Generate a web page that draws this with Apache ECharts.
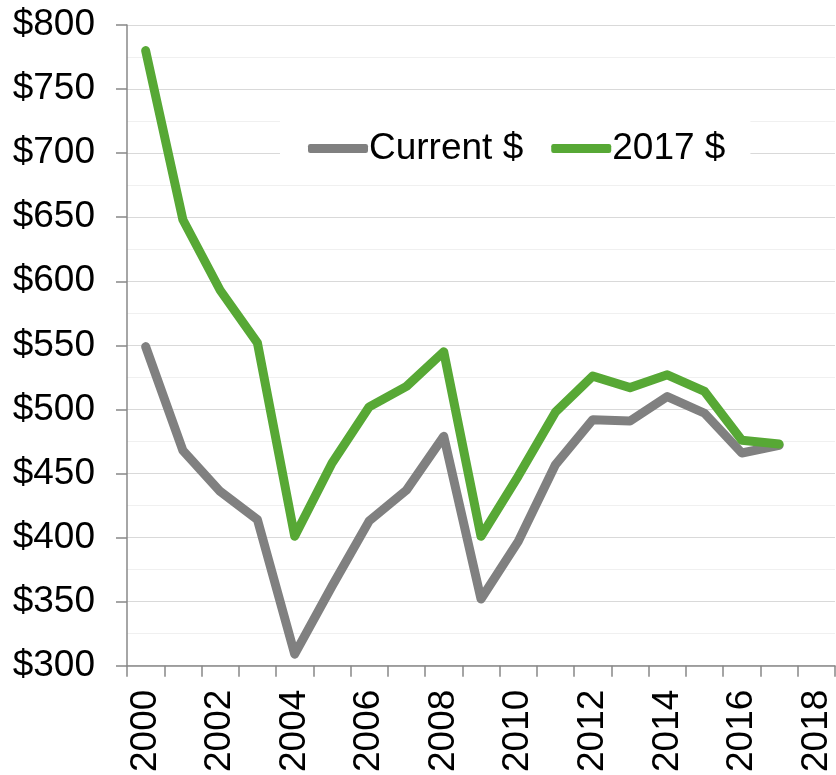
<!DOCTYPE html>
<html>
<head>
<meta charset="utf-8">
<script src="https://cdn.jsdelivr.net/npm/echarts@6/dist/echarts.min.js"></script>
<style>
	html, body { margin: 0; padding: 0; background: #fff; }
	#chart { width: 836px; height: 775px; }
</style>
</head>
<body>
<div id="chart"></div>
<script>
// years on the category axis (2018 has no data)
var years = ['2000', '2001', '2002', '2003', '2004', '2005', '2006', '2007', '2008', '2009',
	'2010', '2011', '2012', '2013', '2014', '2015', '2016', '2017', '2018'];
var seriesNames = ['Current $', '2017 $'];
var currentDollars = [549, 468, 436, 414, 309, 362, 413, 437, 479, 352, 397, 457, 492, 491, 510, 497, 466, 472];
var realDollars = [780, 648, 593, 552, 401, 458, 502, 518, 545, 401, 448, 498, 526, 517, 527, 514, 476, 473];

var fontFamily = '"Liberation Sans", Arial, sans-serif';
var chart = echarts.init(document.getElementById('chart'));

var option = {
	animation: false,
	color: ['#808080', '#57a835'],
	textStyle: { fontFamily: fontFamily },
	legend: {
		data: seriesNames,
		left: 280,
		top: 114,
		padding: [16, 25, 2, 28],
		backgroundColor: '#fff',
		icon: 'roundRect',
		itemWidth: 60,
		itemHeight: 9,
		itemGap: 28,
		textStyle: { fontSize: 37, color: '#000', fontFamily: fontFamily, padding: [0, 0, 0, -4] }
	},
	grid: {
		left: 127,
		right: 1,
		top: 25,
		bottom: 109,
		containLabel: false
	},
	xAxis: {
		type: 'category',
		data: years,
		boundaryGap: true,
		axisLine: { lineStyle: { color: '#888', width: 1.5 } },
		axisTick: { show: true, interval: 0, length: 11, lineStyle: { color: '#888', width: 1.5 } },
		axisLabel: {
			interval: 1,
			rotate: 90,
			margin: 24,
			fontSize: 37,
			color: '#000',
			fontFamily: fontFamily
		},
		splitLine: { show: false }
	},
	yAxis: {
		type: 'value',
		min: 300,
		max: 800,
		interval: 50,
		axisLine: { show: true, lineStyle: { color: '#888', width: 1.5 } },
		axisTick: { show: true, length: 11, lineStyle: { color: '#888', width: 1.5 } },
		axisLabel: {
			margin: 32,
			fontSize: 37,
			color: '#000',
			fontFamily: fontFamily,
			formatter: function (v) { return '$' + v; }
		},
		splitLine: { lineStyle: { color: '#d9d9d9', width: 1 } },
		minorTick: { show: false, splitNumber: 2 },
		minorSplitLine: { show: true, lineStyle: { color: '#f0f0f0', width: 1 } }
	},
	series: [
		{
			name: seriesNames[0],
			type: 'line',
			data: currentDollars,
			symbol: 'none',
			lineStyle: { width: 9, cap: 'round', join: 'round' }
		},
		{
			name: seriesNames[1],
			type: 'line',
			data: realDollars,
			symbol: 'none',
			lineStyle: { width: 9, cap: 'round', join: 'round' }
		}
	]
};

chart.setOption(option);
</script>
</body>
</html>
